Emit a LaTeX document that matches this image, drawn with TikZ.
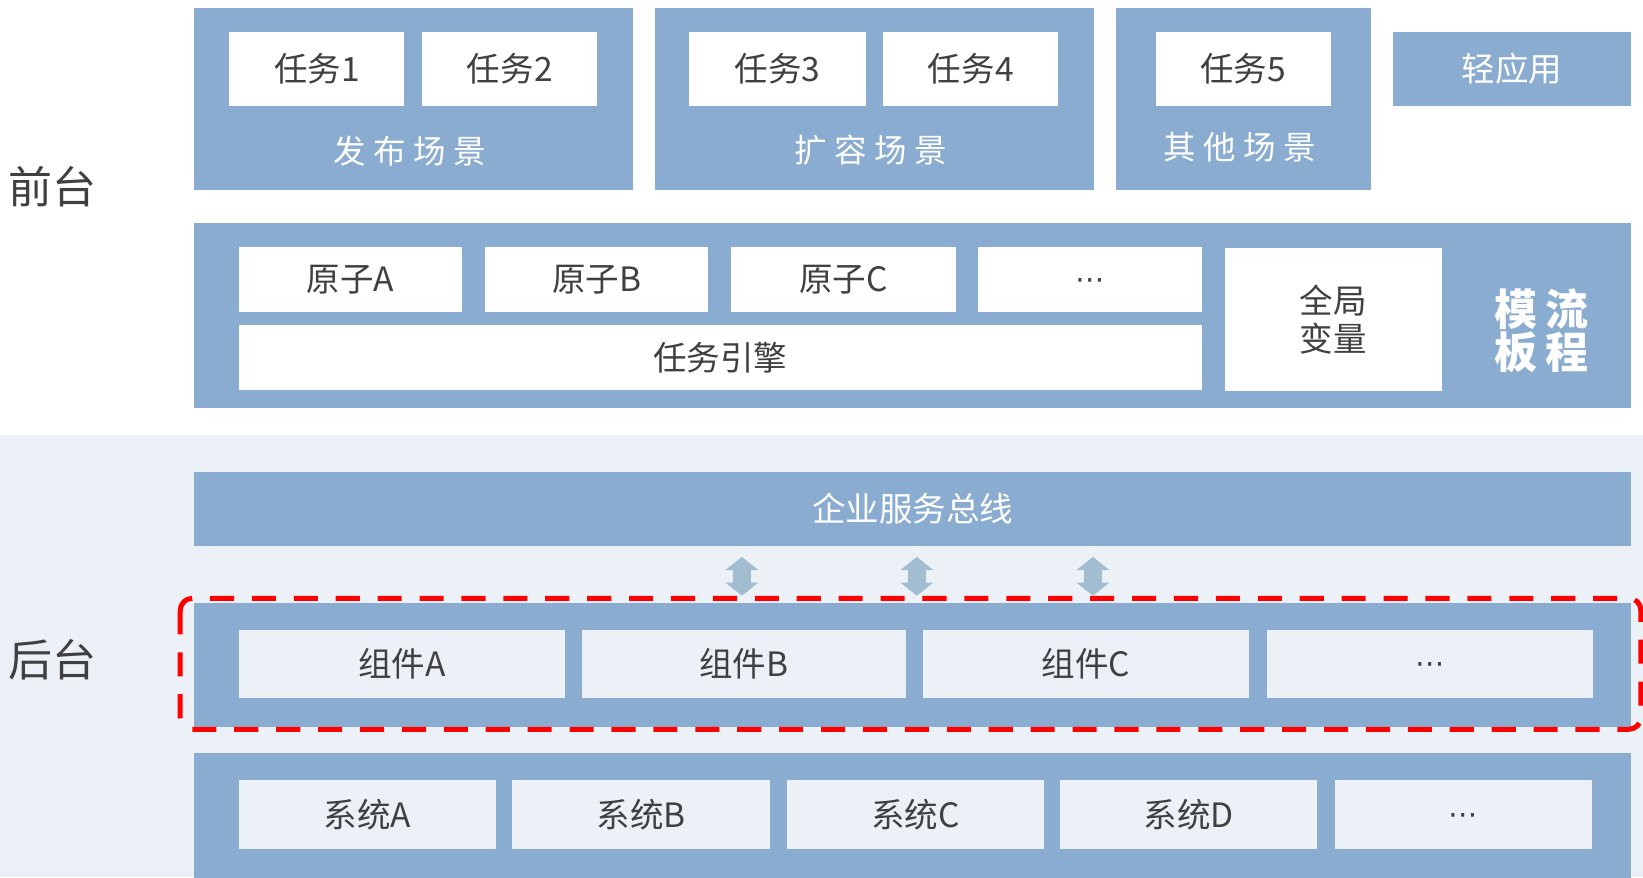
\documentclass[tikz,border=0pt]{standalone}
\usepackage{fontspec}
\setmainfont{Noto Sans CJK SC}
\newfontfamily\dvfont{DejaVu Sans}
\definecolor{boxblue}{RGB}{138,172,208}
\definecolor{lightbg}{RGB}{236,241,248}
\definecolor{arrowc}{RGB}{163,189,208}
\definecolor{txt}{RGB}{64,64,64}
\definecolor{redline}{RGB}{255,0,0}
\newcommand{\lsp}{\hspace{7pt}}
\newcommand{\mdots}{\raisebox{-9.5pt}[0pt][0pt]{\dvfont\fontsize{28}{28}\selectfont ⋯}}
\begin{document}
\begin{tikzpicture}[x=1pt,y=-1pt,
  sz/.style 2 args={minimum width=#1pt, minimum height=#2pt},
  blk/.style={fill=boxblue, draw=none, inner sep=0pt, outer sep=0pt, text=white, font=\fontsize{32}{36}\selectfont},
  wbox/.style={fill=white, draw=none, inner sep=0pt, outer sep=0pt, text=txt, font=\fontsize{32}{36}\selectfont},
  lbox/.style={wbox, fill=lightbg},
  wlabel/.style={text=white, inner sep=0pt, font=\fontsize{31}{34}\selectfont},
  side/.style={text=txt, inner sep=0pt, font=\fontsize{42}{46}\selectfont},
  dblarrow/.style={fill=arrowc, draw=none},
  redframe/.style={draw=redline, line width=4.8pt, dash pattern=on 23pt off 17pt, rounded corners=11.5pt}
]
\useasboundingbox (0,0) rectangle (1568,837);
\fill[white] (0,0) rectangle (1568,837);
\fill[lightbg] (0,415) rectangle (1568,837);

% side labels
\node[side] (front) at (50,178) {前台};
\node[side] (back) at (50,630) {后台};

% top row: scenarios
\node[blk, sz={419}{173}] (sc1) at (394.5,94.5) {};
\node[blk, sz={419}{173}] (sc2) at (834.5,94.5) {};
\node[blk, sz={243}{173}] (sc3) at (1186.5,94.5) {};
\node[blk, sz={228}{70}] (app) at (1443,66) {轻应用};

\node[wbox, sz={167}{70}] (t1) at (302.5,66) {任务1};
\node[wbox, sz={167}{70}] (t2) at (486.5,66) {任务2};
\node[wbox, sz={168}{70}] (t3) at (742,66) {任务3};
\node[wbox, sz={167}{70}] (t4) at (926.5,66) {任务4};
\node[wbox, sz={167}{70}] (t5) at (1186.5,66) {任务5};

\node[wlabel] (l1) at (391,144) {发\lsp 布\lsp 场\lsp 景};
\node[wlabel] (l2) at (831,143) {扩\lsp 容\lsp 场\lsp 景};
\node[wlabel] (l3) at (1183,140) {其\lsp 他\lsp 场\lsp 景};

% second row: engine
\node[blk, sz={1372}{176}] (big) at (871,301) {};
\node[wbox, sz={213}{62}] (a1) at (334.5,267) {原子A};
\node[wbox, sz={213}{62}] (a2) at (569.5,267) {原子B};
\node[wbox, sz={214}{62}] (a3) at (805,267) {原子C};
\node[wbox, sz={214}{62}] (a4) at (1040,267) {\mdots};
\node[wbox, sz={919}{62}] (eng) at (687.5,341) {任务引擎};
\node[wbox, sz={207}{136}, align=center, font=\fontsize{32}{36}\selectfont] (gv) at (1272.5,305) {全局\\变量};
\node[text=white, inner sep=0pt, align=center, font=\fontsize{41}{41}\selectfont\bfseries] (mlbc) at (1471,316) {模\hspace{8pt}流\\板\hspace{8pt}程};

% back end
\node[blk, sz={1372}{71}] (esb) at (871,485.5) {企业服务总线};

\coordinate (ar1) at (708,550);
\coordinate (ar2) at (875,550);
\coordinate (ar3) at (1043,550);
\foreach \a in {ar1,ar2,ar3}{
  \fill[dblarrow, shift={(\a)}] (0,-18.5) -- (15.75,-6) -- (8.5,-6) -- (8.5,6) -- (15.75,6) -- (0,18.5) -- (-15.75,6) -- (-8.5,6) -- (-8.5,-6) -- (-15.75,-6) -- cycle;
}

\node[blk, sz={1372}{119}] (comp) at (871,634.5) {};
\node[lbox, sz={311}{65}] (c1) at (383.5,633.5) {组件A};
\node[lbox, sz={310}{65}] (c2) at (710,633.5) {组件B};
\node[lbox, sz={311}{65}] (c3) at (1036.5,633.5) {组件C};
\node[lbox, sz={311}{65}] (c4) at (1364.5,633.5) {\mdots};

\node[blk, sz={1372}{121}] (sys) at (871,779.5) {};
\node[lbox, sz={245}{66}] (s1) at (350.5,777) {系统A};
\node[lbox, sz={246}{66}] (s2) at (612,777) {系统B};
\node[lbox, sz={245}{66}] (s3) at (873.5,777) {系统C};
\node[lbox, sz={245}{66}] (s4) at (1134.5,777) {系统D};
\node[lbox, sz={245}{66}] (s5) at (1396.5,777) {\mdots};

% red dashed frame
\draw[redframe] (172,571) rectangle (1566,696);
\end{tikzpicture}
\end{document}
